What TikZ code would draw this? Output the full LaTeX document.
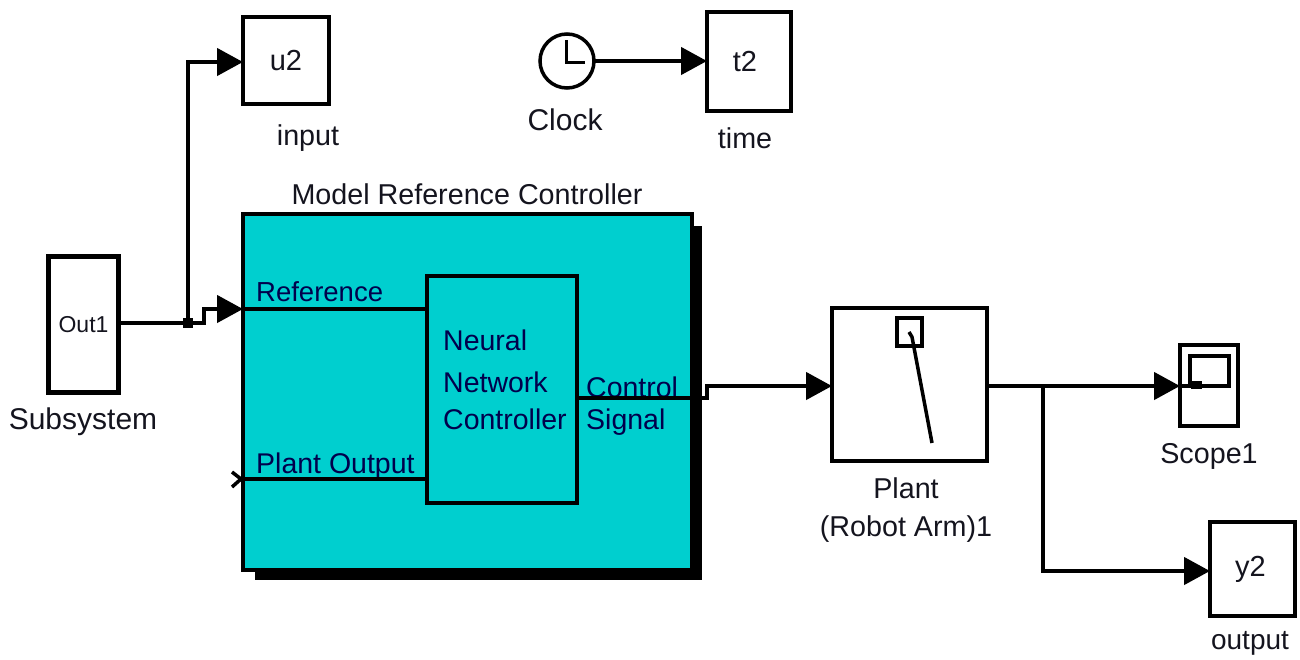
\documentclass[tikz,border=0pt]{standalone}
\usepackage{fontspec}
\setmainfont{Liberation Sans}
\usepackage{tikz}
\usetikzlibrary{arrows.meta}
\definecolor{blockcyan}{RGB}{0,207,207}
\definecolor{labelink}{RGB}{20,20,30}
\tikzset{
    blockbox/.style={draw=black, line width=4.5pt, fill=white, inner sep=0pt, outer sep=0pt, align=center, font=\fontsize{29}{29}\selectfont, text=labelink},
    wire/.style={line width=4.5pt, line cap=butt, line join=miter},
    sigwire/.style={wire, -{Triangle[length=26pt,width=27pt]}},
    caption/.style={inner sep=0pt, text=labelink, align=center, font=\fontsize{28.7}{38}\selectfont},
    portlabel/.style={inner sep=0pt, anchor=base west, text=black!70!blue, font=\fontsize{28.5}{35}\selectfont},
    jdot/.style={fill=black, minimum size=10pt, inner sep=0pt, outer sep=0pt}
}
\begin{document}
\begin{tikzpicture}[x=1pt, y=-1pt]
    \useasboundingbox (0,0) rectangle (1300,659);
    % source side
    \node[blockbox, minimum width=70pt, minimum height=136pt, font=\fontsize{23}{23}\selectfont] (sub) at (83.5,324.5) {Out1};
    \node[caption, font=\fontsize{30}{35}\selectfont] (subcap) at (83,422) {Subsystem};
    \node[blockbox, minimum width=86pt, minimum height=87pt] (u2) at (286,60.5) {\raisebox{-3pt}{u2}};
    \node[caption] (inputcap) at (308,138) {input};
    \node[blockbox, circle, line width=3.5pt, minimum size=54pt] (clock) at (567,61) {};
    \node[caption, font=\fontsize{30}{35}\selectfont] (clockcap) at (565,120) {Clock};
    \node[blockbox, minimum width=84pt, minimum height=99pt] (t2) at (749,61.5) {\hspace*{-8pt}t2};
    \node[caption] (timecap) at (745,138) {time};
    \draw[wire, line width=3pt] (566,40) -- (566,62) -- (585,62);
    % controller block
    \fill[black] (255,226) rectangle (702,580);
    \node[blockbox, fill=blockcyan, minimum width=449pt, minimum height=356pt] (mrc) at (467.5,392) {};
    \node[caption] (mrccap) at (467,194) {Model Reference Controller};
    \node[blockbox, fill=blockcyan, minimum width=150pt, minimum height=227pt] (nnc) at (502,389.5) {};
    \node[portlabel] (nnctext) at (443,350) {Neural};
    \node[portlabel] (nnctext2) at (443,392) {Network};
    \node[portlabel] (nnctext3) at (443,429) {Controller};
    \node[portlabel, font=\fontsize{27.5}{35}\selectfont] (reflabel) at (256,301) {Reference};
    \node[portlabel] (plantlabel) at (256,473) {Plant Output};
    \node[portlabel] (ctrllabel) at (586,397) {Control};
    \node[portlabel] (siglabel) at (586,429) {Signal};
    \coordinate (refin) at (mrc.west |- 0,309);
    \coordinate (plantin) at (mrc.west |- 0,479);
    \coordinate (ctrlout) at (mrc.east |- 0,398);
    \draw[wire] (refin) -- (nnc.west |- refin);
    \draw[wire] (plantin) -- (nnc.west |- plantin);
    \draw[wire] (nnc.east |- ctrlout) -- (ctrlout);
    \draw[line width=3.5pt] (232,472) -- (241,479) -- (232,487);
    % plant and sinks
    \node[blockbox, minimum width=155pt, minimum height=153pt] (plant) at (909.5,384.5) {};
    \node[caption] (plantcap) at (906,510) {Plant\\(Robot Arm)1};
    \node[draw, line width=4pt, fill=white, inner sep=0pt, minimum width=25pt, minimum height=28pt] (pivot) at (909.5,332) {};
    \draw[wire, line width=3.5pt] (909,332) -- (912,337) -- (932,443);
    \node[blockbox, minimum width=58pt, minimum height=81pt] (scope) at (1209,385.5) {};
    \node[draw, line width=4pt, inner sep=0pt, minimum width=39pt, minimum height=30pt] (screen) at (1209.5,371) {};
    \node[caption] (scopecap) at (1209,456) {Scope1};
    \node[blockbox, minimum width=85pt, minimum height=94pt] (y2) at (1252.5,569) {\hspace*{-4pt}\raisebox{-5pt}{y2}};
    \node[caption, font=\fontsize{28}{35}\selectfont] (outputcap) at (1250,643) {output};
    % connectors
    \coordinate (split) at (188,323);
    \coordinate (tee) at (1043,386);
    \draw[wire] (sub.east |- split) -- (split);
    \draw[sigwire] (split) -- (188,62) -- (u2.west |- 0,62);
    \draw[sigwire] (split) -- (204,323) -- (204,309) -- (refin);
    \node[jdot] (splitdot) at (split) {};
    \draw[sigwire] (clock.east) -- (t2.west |- clock.east);
    \draw[sigwire] (ctrlout) -- (707,398) -- (707,386) -- (plant.west |- 0,386);
    \draw[sigwire] (plant.east |- tee) -- (scope.west |- tee);
    \draw[wire] (scope.west |- tee) -- (1195,386);
    \node[jdot, minimum width=11pt, minimum height=8pt] (scopedot) at (1196,385) {};
    \draw[sigwire] (tee) -- (1043,571) -- (y2.west |- 0,571);
\end{tikzpicture}
\end{document}
